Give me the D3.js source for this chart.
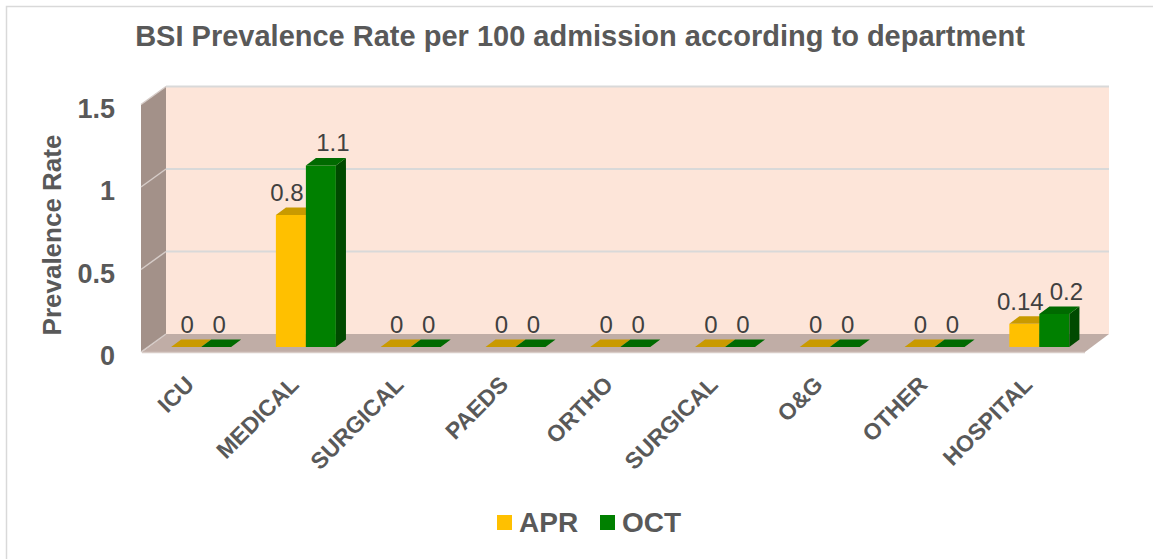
<!DOCTYPE html>
<html>
<head>
<meta charset="utf-8">
<script src="https://cdn.jsdelivr.net/npm/d3@7"></script>
<style>
  html, body { margin: 0; padding: 0; background: #fff; }
  svg { display: block; }
  text { font-family: "Liberation Sans", Arial, sans-serif; }
</style>
</head>
<body>
<svg id="chart" width="1153" height="559"></svg>
<script>
// Departments (SURGICAL appears twice, so the band scale is keyed by index)
const categories = ["ICU", "MEDICAL", "SURGICAL", "PAEDS", "ORTHO", "SURGICAL", "O&G", "OTHER", "HOSPITAL"];
const aprValues = [0, 0.8, 0, 0, 0, 0, 0, 0, 0.14];
const octValues = [0, 1.1, 0, 0, 0, 0, 0, 0, 0.2];
const seriesNames = ["APR", "OCT"];
const yTicks = [0, 0.5, 1, 1.5];

const svg = d3.select("#chart");

// 3D box geometry: front plane, depth shift of the back wall
const frontLeft = 142, frontRight = 1085, baseY = 352;
const DX = 24, DY = 18;
const z0 = 0.28, z1 = 0.7;   // bar depth range inside the box

const x = d3.scaleBand().domain(d3.range(categories.length)).range([frontLeft, frontRight]);
const h = d3.scaleLinear().domain([0, 1.5]).range([0, 247.5]);

const px = (xv, z) => xv + z * DX;
const py = (v, z) => baseY - h(v) - z * DY;

const series = [
  { name: seriesNames[0], values: aprValues, front: "#FFC000", top: "#C99A00", side: "#A87F00" },
  { name: seriesNames[1], values: octValues, front: "#008000", top: "#006A00", side: "#004A00" }
];

// outer frame
svg.append("rect").attr("x", 6.5).attr("y", 6.5).attr("width", 1170).attr("height", 570)
  .attr("fill", "#fff").attr("stroke", "#d9d9d9").attr("stroke-width", 1.5);

// back wall
const bw = { x0: px(frontLeft, 1), x1: px(frontRight, 1), y0: py(1.5, 1), y1: py(0, 1) };
svg.append("rect").attr("x", bw.x0).attr("y", bw.y0).attr("width", bw.x1 - bw.x0).attr("height", bw.y1 - bw.y0)
  .attr("fill", "#FDE5D9");

// side wall
const sideWall = [[px(frontLeft - 1, 0), py(1.5, 0)], [px(frontLeft, 1), py(1.5, 1)],
                  [px(frontLeft, 1), py(0, 1)], [px(frontLeft - 1, 0), py(0, 0)]];
svg.append("polygon").attr("points", sideWall.map(p => p.join(",")).join(" ")).attr("fill", "#A39189");

// floor
const floor = [[px(frontLeft, 0), py(0, 0)], [px(frontRight, 0), py(0, 0)],
               [px(frontRight, 1), py(0, 1)], [px(frontLeft, 1), py(0, 1)]];
svg.append("polygon").attr("points", floor.map(p => p.join(",")).join(" ")).attr("fill", "#C0ADA6");
svg.append("line").attr("x1", px(frontLeft, 0)).attr("x2", px(frontRight, 0))
  .attr("y1", py(0, 0) + 0.5).attr("y2", py(0, 0) + 0.5).attr("stroke", "#d8ccc7").attr("stroke-width", 1.5);

// gridlines on back wall and side wall
yTicks.filter(t => t > 0).forEach(t => {
  svg.append("line").attr("x1", bw.x0).attr("x2", bw.x1).attr("y1", py(t, 1)).attr("y2", py(t, 1))
    .attr("stroke", "#D9D9D9").attr("stroke-width", 2);
  svg.append("line").attr("x1", px(frontLeft - 1, 0)).attr("y1", py(t, 0))
    .attr("x2", px(frontLeft, 1)).attr("y2", py(t, 1))
    .attr("stroke", "#D6CCC8").attr("stroke-width", 1.5);
});
svg.append("line").attr("x1", px(frontLeft - 1, 0)).attr("y1", py(0, 0))
  .attr("x2", px(frontLeft, 1)).attr("y2", py(0, 1)).attr("stroke", "#D6CCC8").attr("stroke-width", 1.5);

// bars
const barW = 30;
const poly = pts => pts.map(p => p.join(",")).join(" ");
const gBars = svg.append("g");
categories.forEach((c, i) => {
  const cx = x(i) + x.bandwidth() / 2;
  series.forEach((s, si) => {
    const v = s.values[i];
    const xa = cx - barW + si * barW, xb = xa + barW;
    const g = gBars.append("g");
    if (v > 0) {
      g.append("polygon").attr("fill", s.front).attr("points", poly([
        [px(xa, z0), py(v, z0)], [px(xb, z0), py(v, z0)], [px(xb, z0), py(0, z0)], [px(xa, z0), py(0, z0)]]));
      g.append("polygon").attr("fill", s.side).attr("points", poly([
        [px(xb, z0), py(v, z0)], [px(xb, z1), py(v, z1)], [px(xb, z1), py(0, z1)], [px(xb, z0), py(0, z0)]]));
    }
    g.append("polygon").attr("fill", s.top).attr("points", poly([
      [px(xa, z0), py(v, z0)], [px(xb, z0), py(v, z0)], [px(xb, z1), py(v, z1)], [px(xa, z1), py(v, z1)]]));
  });
});

// value labels
const labelShift = [-4, 12];
const zeroShift = [1, 3];
categories.forEach((c, i) => {
  const cx = x(i) + x.bandwidth() / 2;
  series.forEach((s, si) => {
    const v = s.values[i];
    const xa = cx - barW + si * barW;
    const shift = v > 0 ? labelShift[si] : zeroShift[si];
    svg.append("text").attr("x", px(xa + barW / 2, z0) + shift).attr("y", py(v, z0) - 14)
      .attr("text-anchor", "middle").attr("font-size", 24).attr("fill", "#404040").text(v);
  });
});

// y tick labels
svg.append("g").selectAll("text").data(yTicks).join("text")
  .attr("x", 115).attr("y", d => py(d, 0) + 4).attr("dy", "0.35em")
  .attr("text-anchor", "end").attr("font-size", 27).attr("font-weight", "bold").attr("fill", "#595959")
  .text(d => d);

// y axis title
svg.append("text").attr("transform", "translate(61,235) rotate(-90)")
  .attr("text-anchor", "middle").attr("font-size", 26).attr("font-weight", "bold").attr("fill", "#595959")
  .text("Prevalence Rate");

// category labels
svg.append("g").selectAll("text").data(categories).join("text")
  .attr("transform", (d, i) => `translate(${x(i) + x.bandwidth() / 2 + 1},386) rotate(-45)`)
  .attr("text-anchor", "end").attr("font-size", 23).attr("font-weight", "bold").attr("fill", "#595959")
  .text(d => d);

// title
svg.append("text").attr("x", 580).attr("y", 46).attr("text-anchor", "middle")
  .attr("font-size", 29).attr("font-weight", "bold").attr("fill", "#595959")
  .text("BSI Prevalence Rate per 100 admission according to department");

// legend
const legendX = [497, 600];
series.forEach((s, si) => {
  svg.append("rect").attr("x", legendX[si]).attr("y", 515).attr("width", 15).attr("height", 15).attr("fill", s.front);
  svg.append("text").attr("x", legendX[si] + 22).attr("y", 532).attr("font-size", 28)
    .attr("font-weight", "bold").attr("fill", "#595959").text(s.name);
});
</script>
</body>
</html>
